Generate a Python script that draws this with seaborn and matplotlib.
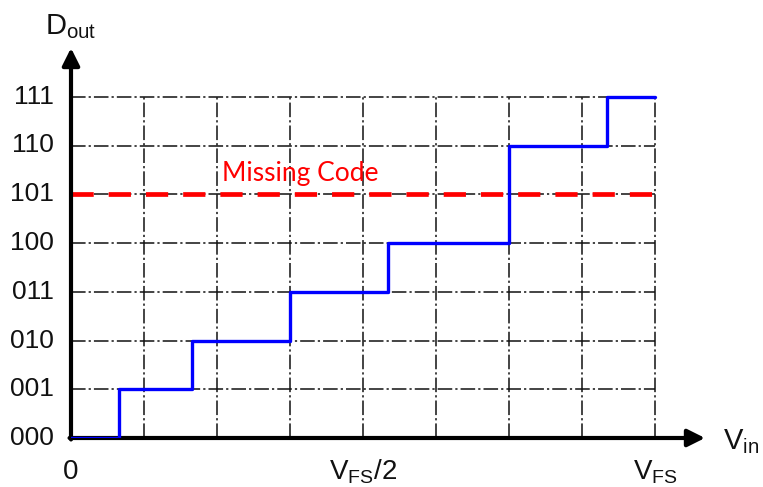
import matplotlib
matplotlib.use("Agg")
import matplotlib.pyplot as plt
import seaborn as sns
import pandas as pd

# ---- data ----
vin_edges = [0.0, 0.66, 1.66, 3.0, 4.34, 6.0, 7.34, 8.0]   # input in units of VFS/8
dout_codes = [0, 1, 2, 3, 4, 6, 7, 7]                      # output code (5 missing)
missing_code = 5
code_labels = ["000", "001", "010", "011", "100", "101", "110", "111"]
x_tick_labels = ["0", r"V$_{\mathregular{FS}}$/2", r"V$_{\mathregular{FS}}$"]
x_tick_pos = [0, 4, 8]
n_div = 8

sns.set_theme(style="white")
plt.rcParams["font.family"] = ["Liberation Sans", "DejaVu Sans"]
plt.rcParams["lines.scale_dashes"] = False

W, H = 763, 487
fig = plt.figure(figsize=(W / 100, H / 100), dpi=100)
x0, x1, y0, y1 = 71, 705, 438, 48
ax = fig.add_axes([x0 / W, 1 - y0 / H, (x1 - x0) / W, (y0 - y1) / H])

grid_kw = dict(color="#111111", lw=1.1, linestyle=(0, (10.5, 2.2, 1.6, 2.2)), zorder=1)
for i in range(1, n_div + 1):
    ax.plot([i, i], [0, 7], **grid_kw)
for j in range(1, 8):
    ax.plot([0, n_div], [j, j], **grid_kw)

# missing code line
df_miss = pd.DataFrame({"x": [0, n_div - 0.03], "y": [missing_code, missing_code]})
sns.lineplot(data=df_miss, x="x", y="y", ax=ax, color="#ff0000", lw=3.4,
             linestyle=(0, (16, 10.8)), zorder=3)
ax.text(2.07, 5.27, "Missing Code", color="#ff0000", fontsize=19,
        family=["Lato", "DejaVu Sans"], ha="left", va="baseline")

# transfer curve
df = pd.DataFrame({"vin": vin_edges, "dout": dout_codes})
sns.lineplot(data=df, x="vin", y="dout", ax=ax, color="#0000ff", lw=2.4,
             drawstyle="steps-post", sort=False, zorder=5)
ax.set_xlim(0, (x1 - x0) / 73.0)
ax.set_ylim(0, (y0 - y1) / 48.75)
ax.axis("off")

# axes arrows
arr = dict(arrowstyle="-|>", lw=3, color="black", mutation_scale=26,
           shrinkA=0, shrinkB=0)
ax.annotate("", xy=((x1 - x0) / 73.0, 0), xytext=(-0.02, 0),
            arrowprops=arr, annotation_clip=False, zorder=4)
ax.annotate("", xy=(0, (y0 - y1) / 48.75), xytext=(0, -0.03),
            arrowprops=arr, annotation_clip=False, zorder=4)

# labels
for j, lab in enumerate(code_labels):
    ax.text(-0.24, j, lab, ha="right", va="center", fontsize=19, color="#111111")
for p, lab in zip(x_tick_pos, x_tick_labels):
    ax.text(p, -0.84, lab, ha="center", va="baseline", fontsize=20, color="#111111")
ax.text(8.93, -0.23, r"V$_{\mathregular{in}}$", ha="left", va="baseline", fontsize=21,
        color="#111111")
ax.text(-0.36, 8.28, r"D$_{\mathregular{out}}$", ha="left", va="baseline", fontsize=21,
        color="#111111")

fig.savefig("out.png", dpi=100)
